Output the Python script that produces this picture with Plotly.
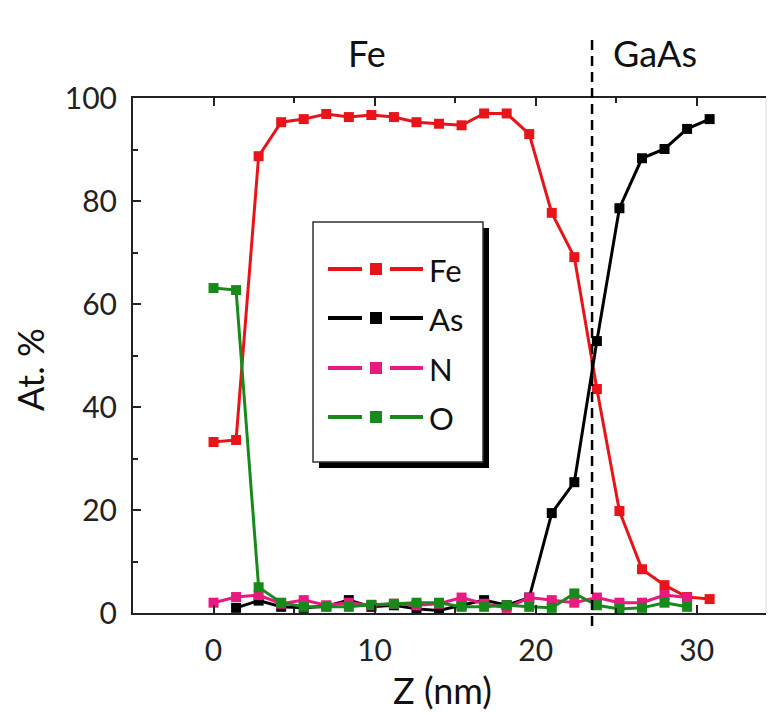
import plotly.graph_objects as go

# ---------------- data ----------------
z_all = [0.0, 1.4, 2.8, 4.2, 5.6, 7.0, 8.4, 9.8, 11.2, 12.6, 14.0, 15.4,
         16.8, 18.2, 19.6, 21.0, 22.4, 23.8, 25.2, 26.6, 28.0, 29.4, 30.8]
fe = [33.2, 33.6, 88.7, 95.3, 95.9, 96.9, 96.3, 96.7, 96.3, 95.3, 95.0, 94.7,
      97.0, 97.0, 93.0, 77.7, 69.1, 43.5, 19.8, 8.5, 5.4, 3.1, 2.7]

z_as = [1.4, 2.8, 4.2, 5.6, 7.0, 8.4, 9.8, 11.2, 12.6, 14.0, 15.4,
        16.8, 18.2, 19.6, 21.0, 22.4, 23.8, 25.2, 26.6, 28.0, 29.4, 30.8]
as_ = [1.0, 2.4, 1.2, 1.0, 1.3, 2.5, 1.2, 1.5, 0.8, 0.5, 1.5,
       2.5, 1.5, 3.0, 19.4, 25.4, 52.8, 78.6, 88.3, 90.1, 94.0, 95.9]

z_no = [0.0, 1.4, 2.8, 4.2, 5.6, 7.0, 8.4, 9.8, 11.2, 12.6, 14.0, 15.4,
        16.8, 18.2, 19.6, 21.0, 22.4, 23.8, 25.2, 26.6, 28.0, 29.4]
n_ = [2.0, 3.1, 3.5, 1.8, 2.5, 1.5, 2.0, 1.5, 1.8, 1.5, 1.8, 3.0,
      1.8, 1.0, 3.0, 2.5, 2.0, 3.0, 2.0, 2.0, 3.5, 3.0]
o_ = [63.1, 62.7, 5.0, 2.0, 1.2, 1.2, 1.2, 1.6, 1.8, 2.0, 2.0, 1.2,
      1.2, 1.5, 1.2, 1.0, 3.8, 1.5, 0.8, 1.0, 2.0, 1.2]

series_names = ["Fe", "As", "N", "O"]
series_colors = ["#e8141a", "#000000", "#e8197f", "#188a1c"]

x_ticks = [0, 10, 20, 30]
y_ticks = [0, 20, 40, 60, 80, 100]
interface_z = 23.5
region_labels = ["Fe", "GaAs"]

FONT = "Lato"

# ---------------- layout geometry ----------------
W, H = 768, 713
L, R, T, B = 133, 2, 98, 100
PW = W - L - R
PH = H - T - B


def px(xp):
    return (xp - L) / PW


def py(yp):
    return (H - B - yp) / PH


fig = go.Figure()
xs = [z_all, z_as, z_no, z_no]
ys = [fe, as_, n_, o_]
for name, color, xv, yv in zip(series_names, series_colors, xs, ys):
    fig.add_trace(go.Scatter(
        x=xv, y=yv, name=name, mode="lines+markers",
        line=dict(color=color, width=3),
        marker=dict(symbol="square", size=10, color=color),
        showlegend=False,
    ))

shapes = []
annotations = []

# interface dashed line
shapes.append(dict(type="line", xref="x", yref="paper",
                   x0=interface_z, x1=interface_z, y0=py(626), y1=py(40),
                   line=dict(color="black", width=2.5, dash="10px,6px")))
# faint right frame
shapes.append(dict(type="line", xref="paper", yref="paper",
                   x0=1, x1=1, y0=0, y1=1,
                   line=dict(color="#dcdcdc", width=1)))

# region labels
for lab, xc in zip(region_labels, [367, 655]):
    annotations.append(dict(text=lab, xref="paper", yref="paper",
                            x=px(xc), y=py(53), showarrow=False,
                            xanchor="center", yanchor="middle",
                            font=dict(family=FONT, size=36, color="#111")))

# axis titles
annotations.append(dict(text="Z (nm)", xref="paper", yref="paper",
                        x=px(442), y=py(690), showarrow=False,
                        xanchor="center", yanchor="middle",
                        font=dict(family=FONT, size=36, color="#111")))
annotations.append(dict(text="At. %", xref="paper", yref="paper",
                        x=px(30), y=py(370), showarrow=False, textangle=-90,
                        xanchor="center", yanchor="middle",
                        font=dict(family=FONT, size=36, color="#111")))

# manual legend box with shadow
bx0, by0, bx1, by1 = 313, 222, 483, 462
shapes.append(dict(type="rect", xref="paper", yref="paper",
                   x0=px(bx0 + 6), x1=px(bx1 + 6), y0=py(by1 + 6), y1=py(by0 + 6),
                   fillcolor="black", line=dict(width=0)))
shapes.append(dict(type="rect", xref="paper", yref="paper",
                   x0=px(bx0), x1=px(bx1), y0=py(by1), y1=py(by0),
                   fillcolor="white", line=dict(color="#333", width=1.5)))
entry_y = [269, 318, 368, 417]
for name, color, ey in zip(series_names, series_colors, entry_y):
    for a, b in [(328, 362), (390, 423)]:
        shapes.append(dict(type="line", xref="paper", yref="paper",
                           x0=px(a), x1=px(b), y0=py(ey), y1=py(ey),
                           line=dict(color=color, width=4)))
    shapes.append(dict(type="rect", xref="paper", yref="paper",
                       x0=px(370), x1=px(382), y0=py(ey + 6), y1=py(ey - 6),
                       fillcolor=color, line=dict(width=0)))
    annotations.append(dict(text=name, xref="paper", yref="paper",
                            x=px(427), y=py(ey + 1), showarrow=False,
                            xanchor="left", yanchor="middle",
                            font=dict(family=FONT, size=31, color="#111")))

fig.update_layout(
    width=W, height=H,
    margin=dict(l=L, r=R, t=T, b=B, pad=0),
    paper_bgcolor="white", plot_bgcolor="white",
    font=dict(family=FONT, size=30, color="#222"),
    shapes=shapes, annotations=annotations,
    showlegend=False,
)
fig.update_xaxes(
    range=[-5, 34.3], tickvals=x_ticks, ticks="inside", ticklen=8,
    tickwidth=1.5, tickcolor="#222",
    showline=True, linecolor="#222", linewidth=2, mirror="ticks",
    showgrid=False, zeroline=False, ticklabelstandoff=10,
    tickfont=dict(family=FONT, size=30, color="#222"),
    minor=dict(dtick=5, tick0=0, ticks="inside", ticklen=5, tickcolor="#222", showgrid=False),
)
fig.update_yaxes(
    range=[0, 100], tickvals=y_ticks, ticks="inside", ticklen=8,
    tickwidth=1.5, tickcolor="#222",
    showline=True, linecolor="#222", linewidth=2, mirror=False,
    showgrid=False, zeroline=False, ticklabelstandoff=8,
    tickfont=dict(family=FONT, size=30, color="#222"),
    minor=dict(dtick=10, tick0=0, ticks="inside", ticklen=5, tickcolor="#222", showgrid=False),
)

fig.write_html("out.html")
